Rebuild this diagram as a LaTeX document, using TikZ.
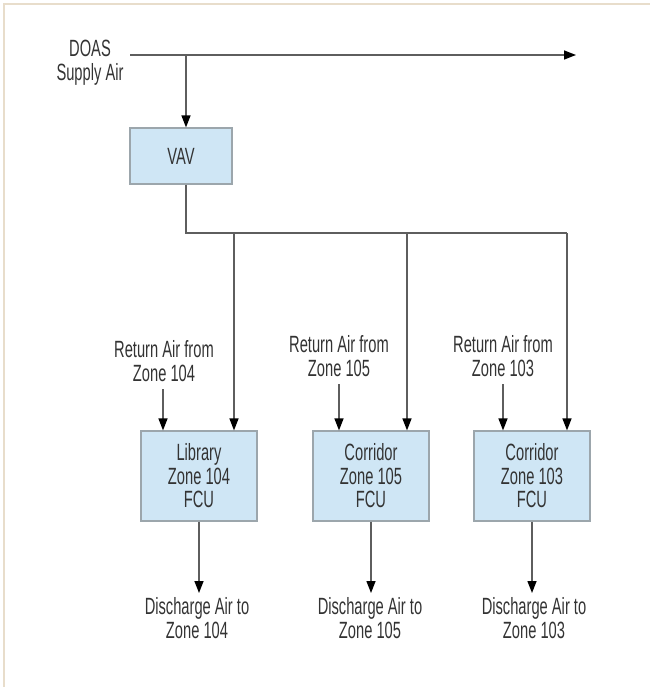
\documentclass[tikz,border=0pt]{standalone}
\usepackage{fontspec}
\setmainfont{Liberation Sans}[FakeStretch=0.625]
\usetikzlibrary{arrows.meta}
\definecolor{txt}{HTML}{333333}
\definecolor{boxfill}{HTML}{CFE6F5}
\definecolor{boxline}{HTML}{9CA6AC}
\definecolor{flowline}{HTML}{5E5E5E}
\definecolor{framec}{HTML}{E8DDCB}
\begin{document}
\begin{tikzpicture}[x=1pt,y=-1pt,
  lbl/.style={text=txt, align=center, font=\fontsize{23.5}{24}\selectfont, inner sep=0pt},
  unit/.style={draw=boxline, fill=boxfill, line width=1.2pt, minimum width=116pt, minimum height=90pt, inner sep=0pt, align=center, text=txt, font=\fontsize{23.5}{23.5}\selectfont},
  pipe/.style={draw=flowline, line width=1.4pt},
  flow/.style={pipe, -{Triangle[length=12pt,width=9pt,color=black]}},
  framel/.style={draw=framec, line width=2.5pt}]
\useasboundingbox (0,0) rectangle (650,687);
% frame
\draw[framel] (4,687) -- (4,4) -- (650,4);
% supply
\node[lbl] (doas) at (90,63) {DOAS\\Supply Air};
\coordinate (s0) at (130,55);
\coordinate (s1) at (576,55);
\coordinate (b0) at (186,55);
\draw[flow] (s0) -- (s1);
\node[unit, minimum width=102pt, minimum height=56pt] (vav) at (181,156) {VAV};
\draw[flow] (b0) -- (b0 |- vav.north);
% distribution
\coordinate (j0) at (186,233);
\coordinate (d1) at (234,233);
\coordinate (d2) at (407,233);
\coordinate (d3) at (567,233);
\draw[pipe] (vav.south -| j0) -- (j0) -- (d3);
% FCUs
\node[unit] (u1) at (199,476) {Library\\Zone 104\\FCU};
\node[unit] (u2) at (371,476) {Corridor\\Zone 105\\FCU};
\node[unit] (u3) at (532,476) {Corridor\\Zone 103\\FCU};
\draw[flow] (d1) -- (d1 |- u1.north);
\draw[flow] (d2) -- (d2 |- u2.north);
\draw[flow] (d3) -- (d3 |- u3.north);
% return air
\node[lbl] (r1) at (164,361) {Return Air from\\Zone 104};
\node[lbl] (r2) at (339,356) {Return Air from\\Zone 105};
\node[lbl] (r3) at (503,356) {Return Air from\\Zone 103};
\coordinate (ra1) at (163,389);
\coordinate (ra2) at (339,384);
\coordinate (ra3) at (503,384);
\draw[flow] (ra1) -- (ra1 |- u1.north);
\draw[flow] (ra2) -- (ra2 |- u2.north);
\draw[flow] (ra3) -- (ra3 |- u3.north);
% discharge
\node[lbl] (o1) at (197,618) {Discharge Air to\\Zone 104};
\node[lbl] (o2) at (370,618) {Discharge Air to\\Zone 105};
\node[lbl] (o3) at (534,618) {Discharge Air to\\Zone 103};
\coordinate (e1) at (199,593);
\coordinate (e2) at (371,593);
\coordinate (e3) at (532,593);
\draw[flow] (u1.south) -- (e1);
\draw[flow] (u2.south) -- (e2);
\draw[flow] (u3.south) -- (e3);
\end{tikzpicture}
\end{document}
